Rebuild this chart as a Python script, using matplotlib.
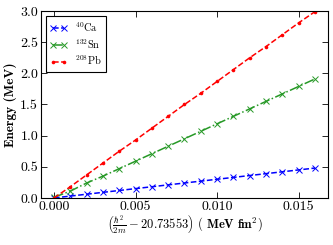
import matplotlib
matplotlib.use("Agg")
import matplotlib.pyplot as plt

x = [0.000, 0.001, 0.002, 0.003, 0.004, 0.005, 0.006, 0.007, 0.008,
     0.009, 0.010, 0.011, 0.012, 0.013, 0.014, 0.015, 0.016]
ca = [0.00, 0.03, 0.06, 0.09, 0.12, 0.15, 0.18, 0.21, 0.24,
      0.27, 0.30, 0.33, 0.36, 0.39, 0.42, 0.45, 0.48]
sn = [0.01, 0.11, 0.24, 0.35, 0.47, 0.59, 0.71, 0.83, 0.95,
      1.07, 1.19, 1.31, 1.43, 1.55, 1.67, 1.79, 1.91]
pb = [0.00, 0.18, 0.37, 0.56, 0.75, 0.93, 1.12, 1.31, 1.50,
      1.68, 1.87, 2.06, 2.25, 2.43, 2.62, 2.81, 2.99]
labels = [r'$^{40}$Ca', r'$^{132}$Sn', r'$^{208}$Pb']
xticks = [0.000, 0.005, 0.010, 0.015]
yticks = [0.0, 0.5, 1.0, 1.5, 2.0, 2.5, 3.0]

plt.rcParams['mathtext.fontset'] = 'cm'
plt.rcParams['font.family'] = ['cmr10', 'DejaVu Serif']
plt.rcParams['axes.formatter.use_mathtext'] = True
plt.rcParams['axes.unicode_minus'] = False

fig = plt.figure(figsize=(3.33, 2.45), dpi=100, facecolor='white')
ax = fig.add_axes([0.123, 0.192, 0.862, 0.763])

green = (0.15, 0.6, 0.15)
ax.plot(x, ca, color='blue', linestyle='--', marker='x', markersize=4.5,
        markeredgewidth=0.7, linewidth=1.1, label=labels[0])
ax.plot(x, sn, color=green, linestyle='-.', marker='x', markersize=4.5,
        markeredgewidth=0.7, linewidth=1.1, label=labels[1])
ax.plot(x, pb, color='red', linestyle='--', marker='o', markersize=2.6,
        markeredgewidth=0, linewidth=1.1, label=labels[2])

ax.set_xlim(-0.0008, 0.0168)
ax.set_ylim(0, 3.0)
ax.set_xticks(xticks)
ax.set_xticklabels(['%.3f' % v for v in xticks])
ax.set_yticks(yticks)
ax.set_yticklabels(['%.1f' % v for v in yticks])
ax.tick_params(direction='in', top=True, right=True, labelsize=10, length=4,
               width=0.6, pad=2)
for s in ax.spines.values():
    s.set_linewidth(0.8)

ax.set_ylabel('Energy (MeV)', family='cmb10', fontsize=9.5, labelpad=2)
ax.set_xlabel(r'$\left(\frac{\hbar^2}{2m}-20.73553\right)$ $\mathbf{(\ MeV\ fm^2)}$',
              fontsize=9, labelpad=1)

leg = ax.legend(loc='upper left', fontsize=7.5, fancybox=False, framealpha=1,
                edgecolor='black', borderpad=0.4, handlelength=1.6,
                labelspacing=0.3, numpoints=2, handletextpad=0.8,
                borderaxespad=0.5)
leg.get_frame().set_linewidth(0.8)

fig.savefig('out.png', dpi=100, facecolor='white')
